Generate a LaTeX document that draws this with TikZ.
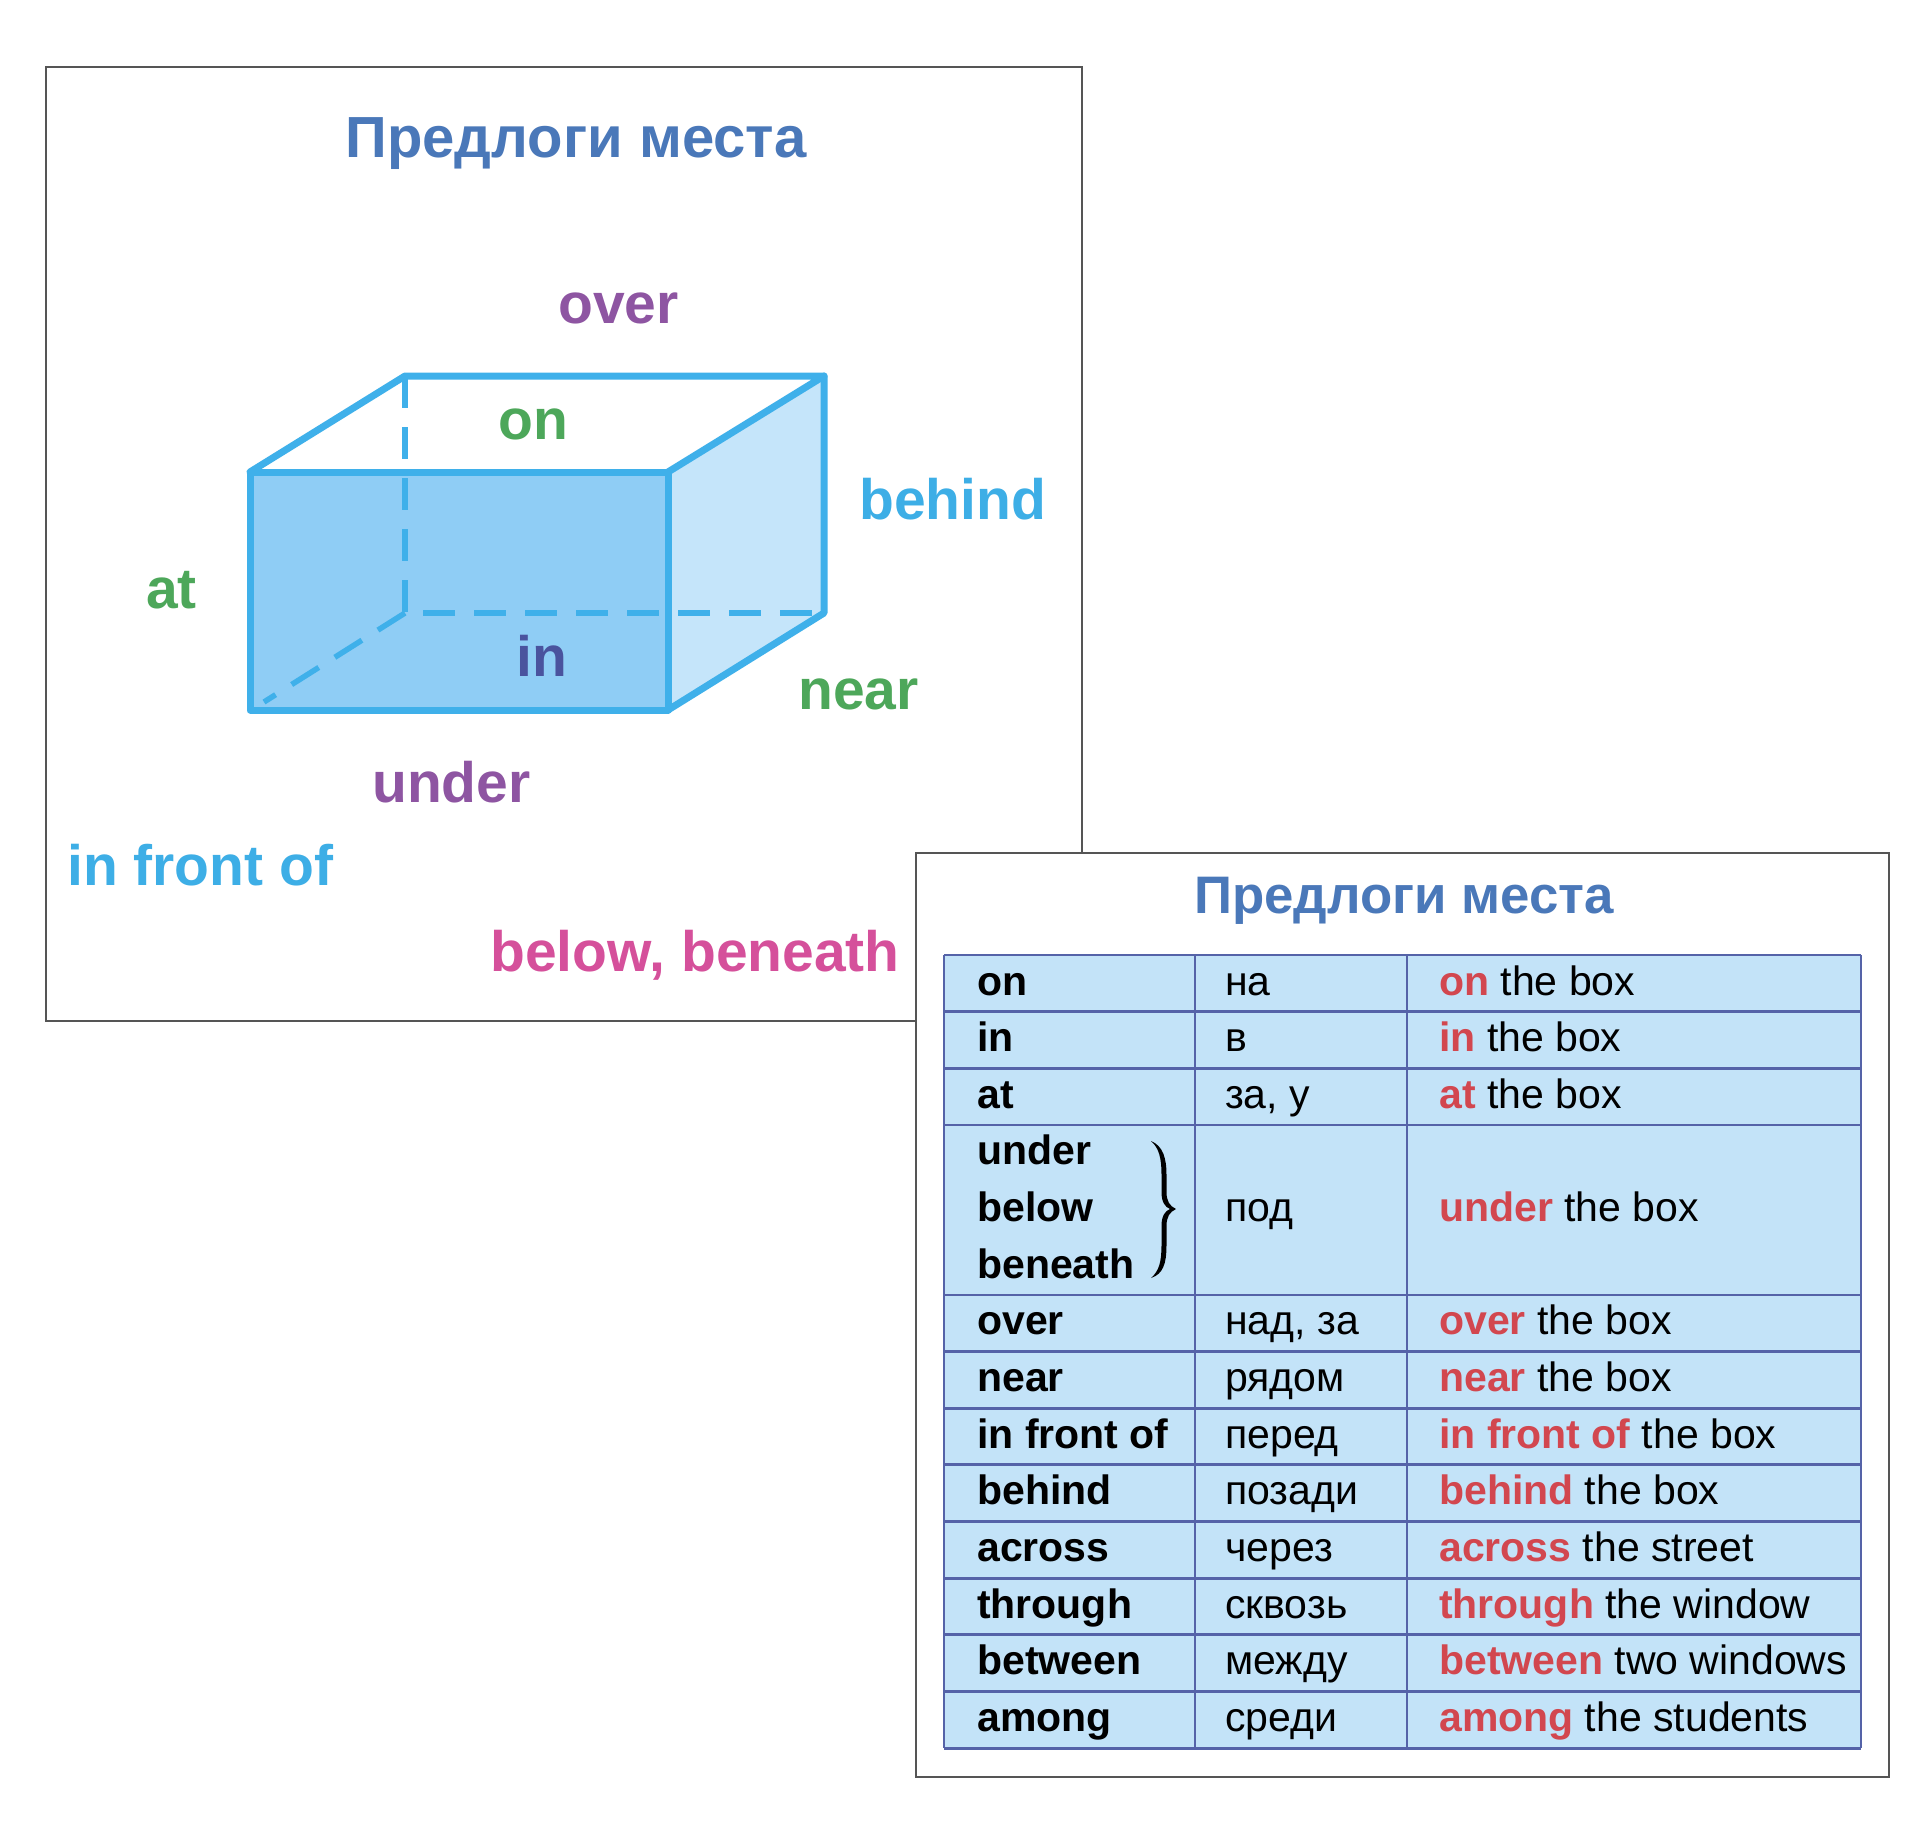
\documentclass[tikz,border=0pt]{standalone}
\usepackage{fontspec}
\setmainfont{Liberation Sans}
\definecolor{titleblue}{HTML}{4A78B9}
\definecolor{boxline}{HTML}{3FB0EA}
\definecolor{frontfill}{HTML}{8FCDF5}
\definecolor{sidefill}{HTML}{C5E5FA}
\definecolor{purp}{HTML}{8E55A2}
\definecolor{grn}{HTML}{4DA75A}
\definecolor{skyb}{HTML}{3DAEE6}
\definecolor{inblue}{HTML}{4A539E}
\definecolor{pinkc}{HTML}{D5509B}
\definecolor{tabfill}{HTML}{C3E3F8}
\definecolor{tabline}{HTML}{5563A8}
\definecolor{redw}{HTML}{D2474F}
\definecolor{cardgray}{HTML}{555555}
\tikzset{
  card/.style={draw=cardgray, line width=1.5, fill=white},
  bigtitle/.style={anchor=base, inner sep=0, text=titleblue, font=\fontsize{58}{62}\selectfont\bfseries},
  smalltitle/.style={anchor=base, inner sep=0, text=titleblue, font=\fontsize{52.8}{56}\selectfont\bfseries},
  lbl/.style={anchor=base west, inner sep=0, font=\fontsize{57}{60}\selectfont\bfseries},
  solidedge/.style={draw=boxline, line width=7, line join=round, line cap=round},
  hiddenedge/.style={draw=boxline, line width=5.5, dash pattern=on 32 off 19},
  tline/.style={draw=tabline, line width=2.8},
  cone/.style={anchor=base west, inner sep=0, font=\fontsize{41}{44}\selectfont\bfseries},
  ctwo/.style={anchor=base west, inner sep=0, font=\fontsize{41}{44}\selectfont},
  cthree/.style={anchor=base west, inner sep=0, font=\fontsize{41}{44}\selectfont},
}
\begin{document}
\begin{tikzpicture}[x=1pt,y=-1pt]
\useasboundingbox (0,0) rectangle (1920,1823);
\fill[white] (0,0) rectangle (1920,1823);

% ---------- left card ----------
\draw[card] (46,67) rectangle (1082,1021);
\node[bigtitle] (t1) at (576,157) {Предлоги места};

\coordinate (FTL) at (250,472);
\coordinate (FTR) at (668,472);
\coordinate (FBR) at (668,710);
\coordinate (FBL) at (250,710);
\coordinate (BTL) at (405,376);
\coordinate (BTR) at (824,376);
\coordinate (BBR) at (824,613);
\coordinate (BBL) at (405,613);
\coordinate (DE) at (264,702);

\fill[frontfill] (FTL) rectangle (FBR);
\fill[sidefill] (FTR) -- (BTR) -- (BBR) -- (FBR) -- cycle;
\draw[hiddenedge] (BTL) -- (BBL) -- (BBR);
\draw[hiddenedge] (BBL) -- (DE);
\draw[solidedge] (FTL) rectangle (FBR);
\draw[solidedge] (FTL) -- (BTL) -- (BTR) -- (FTR);
\draw[solidedge] (BTR) -- (BBR) -- (FBR);

\node[lbl, text=purp] (lover) at (558,323) {over};
\node[lbl, text=grn] (lon) at (498,439) {on};
\node[lbl, text=skyb] (lbehind) at (859,519) {behind};
\node[lbl, text=grn] (lat) at (146,608) {at};
\node[lbl, text=inblue] (lin) at (516,676) {in};
\node[lbl, text=grn] (lnear) at (798,709) {near};
\node[lbl, text=purp] (lunder) at (372,802) {under};
\node[lbl, text=skyb] (lfront) at (67,885) {in front of};
\node[lbl, text=pinkc] (lbelow) at (490,971) {below, beneath};

% ---------- right card ----------
\draw[card] (916,853) rectangle (1889,1777);
\node[smalltitle] (t2) at (1404,913) {Предлоги места};

\def\rh{56.65}
\fill[tabfill] (944,955) rectangle (1861,1748.1);
\foreach \k in {0,1,2,3,6,7,8,9,10,11,12,13,14}{
  \draw[tline] (944,955+\k*\rh) -- (1861,955+\k*\rh);
}
\foreach \xx in {944,1195,1407,1861}{
  \draw[tline] (\xx,955) -- (\xx,1748.1);
}

\foreach \i/\a/\b/\c/\d in {0/on/на/on/the box,1/in/в/in/the box,2/at/{за, у}/at/the box,6/over/{над, за}/over/the box,7/near/рядом/near/the box,8/in front of/перед/in front of/the box,9/behind/позади/behind/the box,10/across/через/across/the street,11/through/сквозь/through/the window,12/between/между/between/two windows,13/among/среди/among/the students}{
  \node[cone] (a\i) at (977,995+\i*\rh) {\a};
  \node[ctwo] (b\i) at (1225,995+\i*\rh) {\b};
  \node[cthree] (c\i) at (1439,995+\i*\rh) {\textbf{\textcolor{redw}{\c}} \d};
}
\node[cone] (a3) at (977,995+3*\rh) {under};
\node[cone] (a4) at (977,995+4*\rh) {below};
\node[cone] (a5) at (977,995+5*\rh) {beneath};
\node[ctwo] (b4) at (1225,995+4*\rh) {под};
\node[cthree] (c4) at (1439,995+4*\rh) {\textbf{\textcolor{redw}{under}} the box};

\fill[black]
  (1151,1141) .. controls (1163,1146) and (1166.5,1158) .. (1166.5,1175)
  -- (1166.5,1192) .. controls (1166.5,1201) and (1169.5,1206) .. (1176,1209)
  .. controls (1169.5,1212) and (1166.5,1217) .. (1166.5,1226)
  -- (1166.5,1245) .. controls (1166.5,1264) and (1163,1274) .. (1151,1278)
  .. controls (1159,1271) and (1161.5,1262) .. (1161.5,1245)
  -- (1161.5,1226) .. controls (1161.5,1216) and (1165,1211) .. (1170,1209)
  .. controls (1165,1207) and (1161.5,1202) .. (1161.5,1192)
  -- (1161.5,1175) .. controls (1161.5,1158) and (1159,1148) .. (1151,1141) -- cycle;
\end{tikzpicture}
\end{document}
